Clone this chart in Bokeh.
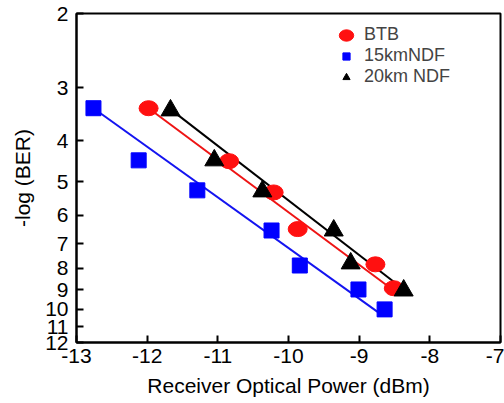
from bokeh.plotting import figure
from bokeh.models import Range1d, FixedTicker, CustomJSTickFormatter, Legend, LegendItem
from bokeh.embed import file_html
from bokeh.resources import INLINE

# Data
btb_x = [-11.98, -10.84, -10.21, -9.87, -8.77, -8.51]
btb_y = [3.35, 4.47, 5.30, 6.47, 7.84, 8.93]
ndf15_x = [-12.76, -12.12, -11.29, -10.24, -9.84, -9.01, -8.64]
ndf15_y = [3.35, 4.45, 5.24, 6.52, 7.89, 8.99, 10.02]
ndf20_x = [-11.67, -11.05, -10.37, -9.36, -9.12, -8.37]
ndf20_y = [3.39, 4.45, 5.27, 6.52, 7.80, 9.04]

# Linear fits (end points)
fit_btb_x = [-11.98, -8.51]
fit_btb_y = [3.35, 9.04]
fit15_x = [-12.76, -8.67]
fit15_y = [3.35, 10.35]
fit20_x = [-11.70, -8.30]
fit20_y = [3.34, 9.18]

x_ticks = [-13, -12, -11, -10, -9, -8, -7]
y_ticks = [2, 3, 4, 5, 6, 7, 8, 9, 10, 11, 12]

FONT = "Liberation Sans"

p = figure(width=504, height=403, output_backend="svg", toolbar_location=None,
           y_axis_type="log", x_range=Range1d(-13, -7), y_range=Range1d(12, 2),
           min_border_left=76, min_border_right=4, min_border_top=13, min_border_bottom=61)

p.xgrid.visible = False
p.ygrid.visible = False
p.outline_line_color = "black"
p.outline_line_width = 2
p.background_fill_color = "white"
p.border_fill_color = "white"

p.line(fit15_x, fit15_y, color="#1414f0", line_width=2)
p.line(fit_btb_x, fit_btb_y, color="#ee1414", line_width=2)
p.line(fit20_x, fit20_y, color="black", line_width=2)

r1 = p.ellipse(btb_x, btb_y, width=19, height=15, width_units="screen", height_units="screen",
               color="#ff1010")
r2 = p.scatter(ndf15_x, ndf15_y, marker="square", size=15, color="#0000ff")
r3 = p.scatter(ndf20_x, ndf20_y, marker="triangle", size=19, color="black")

legend = Legend(items=[LegendItem(label="BTB", renderers=[r1]),
                       LegendItem(label="15kmNDF", renderers=[r2]),
                       LegendItem(label="20km NDF", renderers=[r3])],
                location=(260, 255), border_line_color=None, background_fill_alpha=0,
                padding=0, margin=0, spacing=0, glyph_height=18, glyph_width=20,
                label_height=18, label_standoff=8,
                label_text_font=FONT, label_text_font_size="18px")
p.add_layout(legend)

for ax in (p.xaxis[0], p.yaxis[0]):
    ax.axis_line_width = 2
    ax.axis_line_color = "black"
    ax.major_tick_line_width = 2
    ax.major_tick_in = 7
    ax.major_tick_out = 0
    ax.minor_tick_line_color = None
    ax.major_label_text_font = FONT
    ax.major_label_text_font_size = "21px"
    ax.major_label_text_color = "black"
    ax.axis_label_text_font = FONT
    ax.axis_label_text_font_size = "21px"
    ax.axis_label_text_font_style = "normal"
    ax.axis_label_text_color = "black"

p.xaxis.ticker = FixedTicker(ticks=x_ticks)
p.yaxis.ticker = FixedTicker(ticks=y_ticks)
p.yaxis.formatter = CustomJSTickFormatter(code="return tick.toFixed(0);")
p.xaxis.formatter = CustomJSTickFormatter(code="return tick.toFixed(0);")
p.xaxis.axis_label = "Receiver Optical Power (dBm)"
p.yaxis.axis_label = "-log (BER)"
p.xaxis.major_label_standoff = 6
p.yaxis.major_label_standoff = 8
p.xaxis.axis_label_standoff = 8
p.yaxis.axis_label_standoff = 8

open("out.html", "w").write(file_html(p, INLINE))
